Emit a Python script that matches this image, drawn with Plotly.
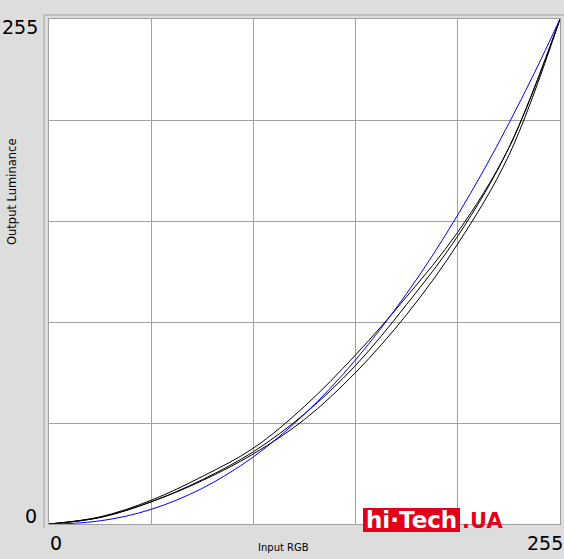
import plotly.graph_objects as go

# ---- data (0..255 units) ----
ref_in = [0, 12.75, 25.5, 38.25, 51, 63.75, 76.5, 89.25, 102, 114.75, 127.5,
          140.25, 153, 165.75, 178.5, 191.25, 204, 216.75, 229.5, 242.25, 255]
ref_out = [0, 0.37, 1.6, 3.9, 7.4, 12.1, 18.0, 25.3, 33.9, 44.0, 55.5,
           68.4, 82.9, 98.9, 116.4, 135.4, 156.1, 178.3, 202.3, 227.8, 255]

meas_in = [0, 25.5, 51, 76.5, 102, 127.5, 153, 178.5, 204, 229.5, 255]
meas_a = [0, 3.6, 12.0, 24.0, 38.3, 59.4, 85.4, 114.8, 147.4, 190.0, 255]
meas_b = [0, 3.3, 11.2, 22.4, 36.5, 55.6, 80.1, 110.9, 145.4, 190.0, 255]
meas_c = [0, 3.3, 11.2, 21.9, 35.4, 52.8, 76.5, 105.8, 141.5, 186.2, 255]

grid_vals = [0, 51, 102, 153, 204, 255]
x_labels = ["0", "255"]
y_labels = ["0", "255"]

W, H = 564, 559
L, R, T, B = 49, 4, 19, 35
PW, PH = W - L - R, H - T - B


def px(x):
    return (x - L) / PW


def py(y):
    return (H - B - y) / PH


fig = go.Figure()
for ys in (meas_a, meas_b, meas_c):
    fig.add_trace(go.Scatter(x=meas_in, y=ys, mode="lines",
                             line=dict(color="black", width=1, shape="spline"),
                             hoverinfo="skip", showlegend=False))
fig.add_trace(go.Scatter(x=ref_in, y=ref_out, mode="lines",
                         line=dict(color="#0000ff", width=1, shape="spline"),
                         hoverinfo="skip", showlegend=False))

axis_common = dict(range=[0, 255], tickvals=grid_vals, showticklabels=False,
                   ticks="", showgrid=True, gridcolor="#a0a0a0", gridwidth=1,
                   zeroline=False, showline=True, mirror=True,
                   linecolor="#a0a0a0", linewidth=1, fixedrange=True)

fig.update_layout(
    width=W, height=H,
    margin=dict(l=L, r=R, t=T, b=B, pad=0),
    paper_bgcolor="#dddddd", plot_bgcolor="white",
    xaxis=axis_common, yaxis=axis_common,
    showlegend=False,
)

big = dict(family="DejaVu Sans", size=19, color="black")
ann = [
    dict(text=x_labels[0], x=px(56), y=py(543), font=big),
    dict(text=x_labels[1], x=px(545), y=py(543), font=big),
    dict(text=y_labels[1], x=px(20), y=py(27), font=big),
    dict(text=y_labels[0], x=px(31), y=py(516), font=big),
    dict(text="Input RGB", x=px(283), y=py(547),
         font=dict(family="DejaVu Sans", size=10, color="black")),
    dict(text="Output Luminance", x=px(12), y=py(192), textangle=-90,
         font=dict(family="DejaVu Sans", size=11.5, color="black")),
    dict(text="<b>hi·Tech</b>", x=px(411.5), y=py(520),
         font=dict(family="DejaVu Sans", size=23, color="white")),
    dict(text="<b>.UA</b>", x=px(482), y=py(520.5),
         font=dict(family="DejaVu Sans", size=21, color="#e2001a")),
]
for a in ann:
    a.update(xref="paper", yref="paper", showarrow=False,
             xanchor="center", yanchor="middle")
fig.update_layout(annotations=ann)

fig.add_shape(type="rect", xref="paper", yref="paper", layer="above",
              x0=px(363), y0=py(532), x1=px(460), y1=py(508),
              fillcolor="#e2001a", line=dict(width=0))
fig.add_shape(type="line", xref="paper", yref="paper",
              x0=px(44), y0=py(15), x1=px(564), y1=py(15),
              line=dict(color="#a0a0a0", width=1))
fig.add_shape(type="line", xref="paper", yref="paper",
              x0=px(44), y0=py(15), x1=px(44), y1=py(528),
              line=dict(color="#a0a0a0", width=1))

fig.write_html("out.html", config={"displayModeBar": False})

with open("out.html", encoding="utf-8") as f:
    html = f.read()
html = html.replace("<head>", "<head><style>html,body{margin:0;padding:0;overflow:hidden;}</style>", 1)
with open("out.html", "w", encoding="utf-8") as f:
    f.write(html)
